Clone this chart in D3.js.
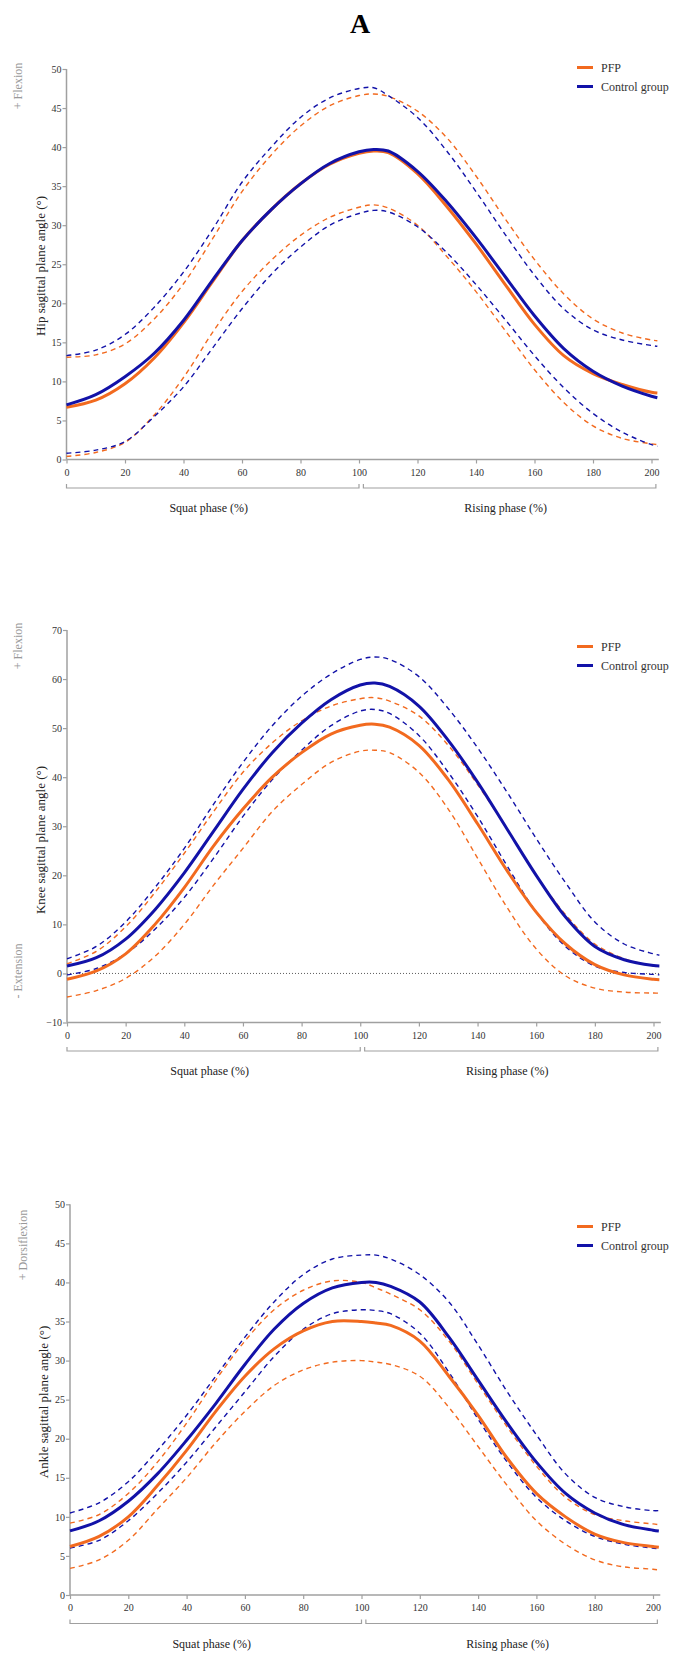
<!DOCTYPE html>
<html>
<head>
<meta charset="utf-8">
<script src="https://cdn.jsdelivr.net/npm/d3@7"></script>
<style>
body { margin: 0; background: #fff; }
svg { display: block; }
text { font-family: "Liberation Serif", "Times New Roman", "DejaVu Serif", serif; }
.tick-label { font-size: 10px; fill: #333; }
.axis-line { stroke: #a0a0a0; stroke-width: 1.5; fill: none; }
.ytitle { font-size: 13px; fill: #222; }
.side { font-size: 12px; fill: #999; }
.phase { font-size: 12px; fill: #222; }
.legend-text { font-size: 12px; fill: #333; }
</style>
</head>
<body>
<svg id="chart" width="675" height="1654"></svg>
<script>
// phase (%) grid shared by all series
var pct = [0,10,20,30,40,50,60,70,80,90,100,105,110,120,130,140,150,160,170,180,190,200,202];

// Hip
var hipPFP      = [6.7,7.6,9.7,13.0,17.5,22.8,28.0,32.0,35.3,37.8,39.2,39.5,39.3,36.6,32.4,27.6,22.4,17.3,13.3,11.0,9.6,8.6,8.5];
var hipPFPUp    = [13.1,13.4,14.8,18.0,22.5,28.3,34.3,39.0,42.7,45.3,46.6,46.8,46.5,44.6,41.2,36.3,30.8,25.6,21.2,18.0,16.2,15.3,15.2];
var hipPFPLo    = [0.4,0.9,2.2,5.7,10.5,16.3,21.5,25.5,28.7,31.0,32.3,32.6,32.2,30.0,26.0,21.5,16.5,11.5,7.3,4.3,2.7,2.0,1.9];
var hipCtrl     = [7.0,8.3,10.6,13.6,17.8,23.0,28.0,32.0,35.3,37.9,39.4,39.7,39.5,36.9,33.0,28.4,23.4,18.4,14.2,11.3,9.4,8.1,7.9];
var hipCtrlUp   = [13.3,14.0,16.0,19.5,24.0,29.5,35.5,40.0,43.8,46.3,47.5,47.6,46.6,43.8,39.5,34.3,28.8,23.6,19.3,16.6,15.3,14.6,14.5];
var hipCtrlLo   = [0.8,1.2,2.3,5.5,9.3,14.3,19.3,23.7,27.2,30.0,31.5,31.9,31.7,29.8,26.5,22.4,17.9,13.3,9.2,5.9,3.5,1.9,1.7];

// Knee
var kneePFP     = [-1.2,0.5,4.0,10.0,17.5,26.0,33.5,40.0,45.0,48.8,50.6,50.8,50.2,46.5,39.5,30.5,21.0,12.5,6.0,1.8,-0.3,-1.2,-1.3];
var kneePFPUp   = [2.0,4.5,9.5,16.5,24.5,33.0,41.0,47.0,51.5,54.5,56.0,56.2,55.5,52.5,46.5,38.5,29.5,20.0,12.0,6.0,3.0,1.5,1.3];
var kneePFPLo   = [-4.8,-3.5,-1.0,3.5,10.0,18.0,25.5,33.0,38.5,43.0,45.3,45.5,45.0,41.0,33.5,23.5,13.5,5.0,-0.5,-3.0,-3.8,-4.0,-4.0];
var kneeCtrl    = [1.5,3.2,7.0,13.0,20.5,29.0,37.5,45.0,51.0,55.8,58.8,59.2,58.5,54.5,47.5,39.0,29.5,20.0,11.5,5.5,2.8,1.6,1.5];
var kneeCtrlUp  = [3.0,5.5,10.5,17.5,25.5,34.5,43.0,50.5,56.5,61.0,64.0,64.5,64.0,60.5,54.0,46.0,37.0,27.5,18.5,10.5,6.0,4.0,3.7];
var kneeCtrlLo  = [-0.3,1.0,4.0,9.0,15.5,23.5,32.0,39.5,45.5,50.5,53.5,53.8,53.0,48.5,41.0,32.0,22.0,12.5,5.5,1.5,0.2,-0.2,-0.3];

// Ankle
var anklePFP    = [6.2,7.5,10.0,14.0,18.5,23.5,28.0,31.5,33.8,35.0,35.0,34.8,34.5,32.5,28.0,23.0,17.5,13.0,10.0,7.8,6.7,6.2,6.1];
var anklePFPUp  = [9.2,10.3,13.0,17.0,22.0,27.5,32.5,36.5,39.0,40.2,40.0,39.3,38.5,36.5,32.5,27.0,21.5,16.5,12.5,10.3,9.5,9.1,9.0];
var anklePFPLo  = [3.4,4.5,7.0,11.0,15.0,19.5,23.5,26.8,28.8,29.8,30.0,29.8,29.5,28.0,24.0,19.0,14.0,9.5,6.5,4.5,3.6,3.3,3.2];
var ankleCtrl   = [8.2,9.5,12.0,15.5,19.8,24.5,29.5,34.0,37.3,39.3,40.0,40.0,39.5,37.5,33.0,27.5,22.0,17.0,13.0,10.5,9.0,8.3,8.2];
var ankleCtrlUp = [10.5,11.8,14.5,18.5,23.0,28.0,33.0,37.5,41.0,43.0,43.5,43.5,43.0,41.0,37.5,32.0,26.0,20.5,15.5,12.5,11.3,10.8,10.8];
var ankleCtrlLo = [6.0,7.0,9.5,13.0,17.0,21.5,26.0,30.5,34.0,36.0,36.5,36.4,36.0,33.5,28.5,22.5,17.0,12.5,9.5,7.5,6.5,6.0,5.9];

var xTicks = [0,20,40,60,80,100,120,140,160,180,200];
var hipTicks = [0,5,10,15,20,25,30,35,40,45,50];
var kneeTicks = [-10,0,10,20,30,40,50,60,70];
var ankleTicks = [0,5,10,15,20,25,30,35,40,45,50];

var groups = ["PFP", "Control group"];
var colPFP = "#f26a1f";
var colCtrl = "#1212a8";
var serif = "'Liberation Serif', 'Times New Roman', serif";

var svg = d3.select("#chart");

svg.append("text")
	.attr("x", 360).attr("y", 33)
	.attr("text-anchor", "middle")
	.style("font-size", "28px")
	.style("font-weight", "bold")
	.text("A");

var panels = [
	{ x0: 66.5, x1: 651.5, yTop: 69, yBot: 459.5, yDom: [0,50], ticks: hipTicks,
	  title: "Hip sagittal plane angle (°)", titleX: 40, titleY: 266,
	  sides: [{t: "+ Flexion", x: 18, y: 86}],
	  legY: 67.5, zero: false,
	  pfp: [hipPFP, hipPFPUp, hipPFPLo], ctrl: [hipCtrl, hipCtrlUp, hipCtrlLo] },
	{ x0: 67, x1: 653.5, yTop: 630, yBot: 1022.5, yDom: [-10,70], ticks: kneeTicks,
	  title: "Knee sagittal plane angle (°)", titleX: 40, titleY: 840,
	  sides: [{t: "+ Flexion", x: 18, y: 646}, {t: "- Extension", x: 18, y: 971}],
	  legY: 646.5, zero: true,
	  pfp: [kneePFP, kneePFPUp, kneePFPLo], ctrl: [kneeCtrl, kneeCtrlUp, kneeCtrlLo] },
	{ x0: 70, x1: 653, yTop: 1204.3, yBot: 1595, yDom: [0,50], ticks: ankleTicks,
	  title: "Ankle sagittal plane angle (°)", titleX: 43, titleY: 1402,
	  sides: [{t: "+ Dorsiflexion", x: 23, y: 1245}],
	  legY: 1226.5, zero: false,
	  pfp: [anklePFP, anklePFPUp, anklePFPLo], ctrl: [ankleCtrl, ankleCtrlUp, ankleCtrlLo] }
];

panels.forEach(function(p){ drawPanel(p); });

function drawPanel(p) {
	var g = svg.append("g");
	var x = d3.scaleLinear().domain([0,200]).range([p.x0, p.x1]);
	var y = d3.scaleLinear().domain(p.yDom).range([p.yBot, p.yTop]);

	// zero reference (knee only)
	if (p.zero) {
		g.append("line")
			.attr("x1", x(0)).attr("x2", x(202.5))
			.attr("y1", y(0)).attr("y2", y(0))
			.style("stroke", "#333").style("stroke-width", 0.8)
			.style("stroke-dasharray", "1,2");
	}

	// y axis
	var yAxis = d3.axisLeft(y).tickValues(p.ticks).tickSize(4).tickSizeOuter(0);
	var ya = g.append("g").attr("transform", "translate(" + p.x0 + ",0)").call(yAxis);
	// x axis
	var xAxis = d3.axisBottom(x).tickValues(xTicks).tickSize(4).tickSizeOuter(0);
	var xa = g.append("g").attr("transform", "translate(0," + p.yBot + ")").call(xAxis);
	[ya, xa].forEach(function(a){
		a.attr("font-family", serif);
		a.select(".domain").remove();
		a.selectAll(".tick line").style("stroke", "#a0a0a0").style("stroke-width", 1.2);
		a.selectAll(".tick text").attr("class", "tick-label")
			.style("font-family", serif).style("font-size", "10px").style("fill", "#333");
	});
	xa.selectAll(".tick text").attr("dy", "0.9em");
	ya.selectAll(".tick text").attr("x", -5);

	g.append("line").attr("class", "axis-line")
		.attr("x1", p.x0).attr("x2", p.x0).attr("y1", p.yTop).attr("y2", p.yBot);
	g.append("line").attr("class", "axis-line")
		.attr("x1", p.x0).attr("x2", x(202.5)).attr("y1", p.yBot).attr("y2", p.yBot);

	// phase brackets
	var by = p.yBot + 28.5;
	var br = [[0, 100, "Squat phase (%)"], [101.5, 201.5, "Rising phase (%)"]];
	br.forEach(function(b){
		g.append("path")
			.attr("d", "M" + x(b[0]) + "," + (by-4) + "V" + by + "H" + x(b[1]) + "V" + (by-4))
			.style("fill", "none").style("stroke", "#a0a0a0").style("stroke-width", 1.2);
		g.append("text").attr("class", "phase")
			.attr("x", (x(b[0]) + x(b[1])) / 2 - 4).attr("y", by + 24)
			.attr("text-anchor", "middle")
			.text(b[2]);
	});

	// axis titles
	g.append("text").attr("class", "ytitle")
		.attr("transform", "translate(" + p.titleX + "," + p.titleY + ") rotate(-90)")
		.attr("text-anchor", "middle").attr("dy", "0.35em")
		.text(p.title);
	p.sides.forEach(function(s){
		g.append("text").attr("class", "side")
			.attr("transform", "translate(" + s.x + "," + s.y + ") rotate(-90)")
			.attr("text-anchor", "middle").attr("dy", "0.35em")
			.text(s.t);
	});

	// curves
	var line = d3.line()
		.x(function(d){ return x(d[0]); })
		.y(function(d){ return y(d[1]); })
		.curve(d3.curveCatmullRom.alpha(0.5));
	function pts(arr){ return pct.map(function(v,i){ return [v, arr[i]]; }); }

	[[p.pfp, colPFP], [p.ctrl, colCtrl]].forEach(function(s){
		[1,2].forEach(function(k){
			g.append("path").attr("d", line(pts(s[0][k])))
				.style("fill", "none").style("stroke", s[1])
				.style("stroke-width", 1.4).style("stroke-dasharray", "5,4");
		});
	});
	[[p.pfp, colPFP], [p.ctrl, colCtrl]].forEach(function(s){
		g.append("path").attr("d", line(pts(s[0][0])))
			.style("fill", "none").style("stroke", s[1])
			.style("stroke-width", 3);
	});

	// legend
	groups.forEach(function(name, i){
		var ly = p.legY + i * 19;
		g.append("line").attr("x1", 577).attr("x2", 593).attr("y1", ly).attr("y2", ly)
			.style("stroke", i == 0 ? colPFP : colCtrl).style("stroke-width", 3);
		g.append("text").attr("class", "legend-text")
			.attr("x", 601).attr("y", ly).attr("dy", "0.35em")
			.text(name);
	});
}
</script>
</body>
</html>
